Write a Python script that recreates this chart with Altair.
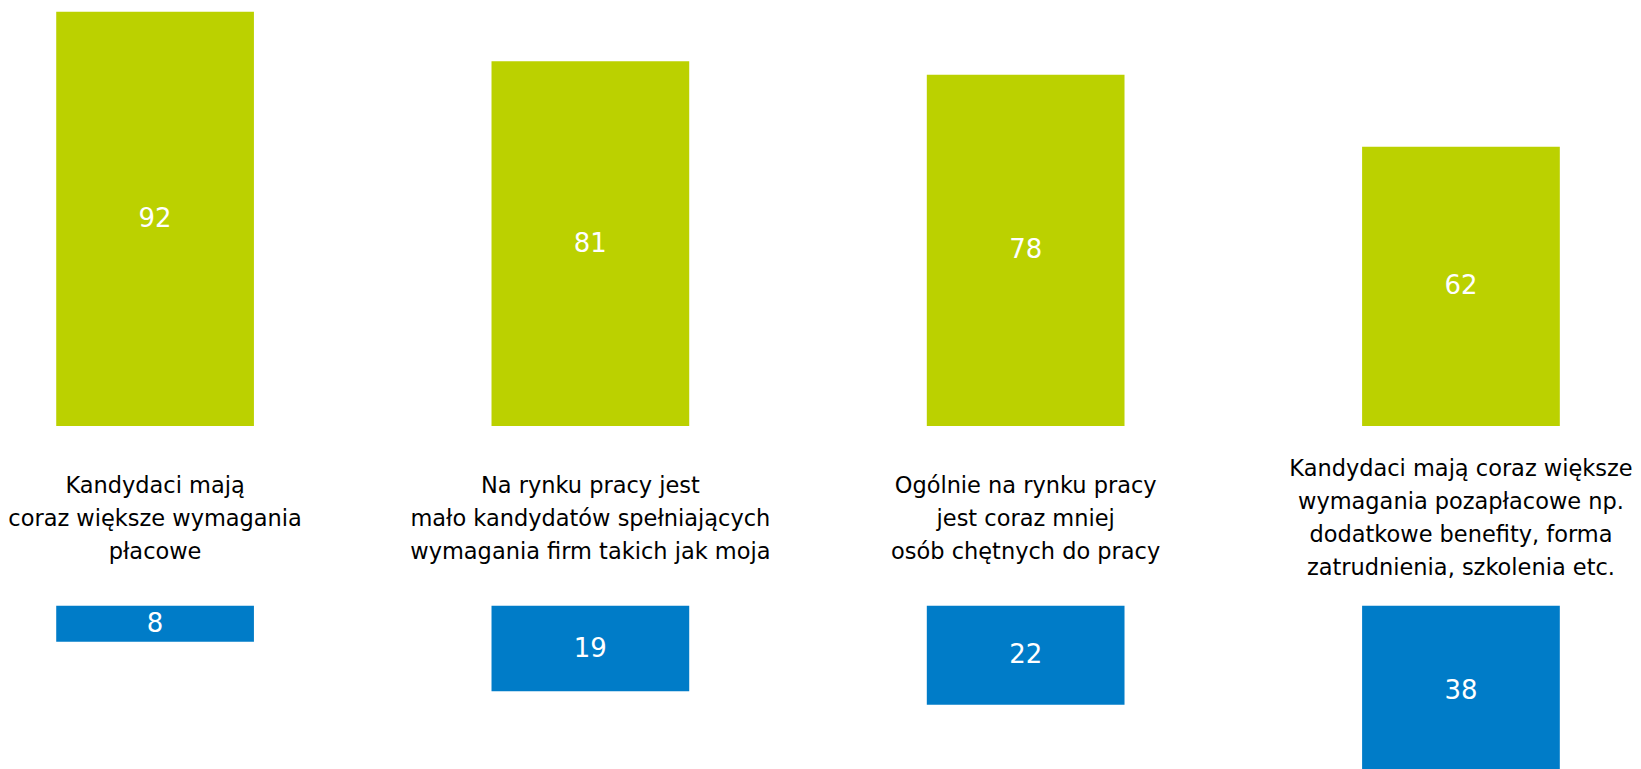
import altair as alt
import pandas as pd

categories = ["c1", "c2", "c3", "c4"]
labels = [
    "Kandydaci mają\ncoraz większe wymagania\npłacowe",
    "Na rynku pracy jest\nmało kandydatów spełniających\nwymagania firm takich jak moja",
    "Ogólnie na rynku pracy\njest coraz mniej\nosób chętnych do pracy",
    "Kandydaci mają coraz większe\nwymagania pozapłacowe np.\ndodatkowe benefity, forma\nzatrudnienia, szkolenia etc.",
]
agree = [92, 81, 78, 62]
disagree = [8, 19, 22, 38]

GREEN = "#BBD100"
BLUE = "#007CC8"
FONT = "DejaVu Sans"

df = pd.DataFrame({"cat": categories, "label": labels, "agree": agree, "disagree": disagree})

W = 1594
TOP_H = 418
MID_H = 180
BOT_H = 175
PX_PER_UNIT = TOP_H / 92.7
LINE_H = 33
MID_CENTER = 93

xenc = alt.X(
    "cat:N",
    sort=categories,
    scale=alt.Scale(type="band", paddingInner=0.5458, paddingOuter=0.1016),
    axis=None,
)

top_scale = alt.Scale(domain=[0, TOP_H / PX_PER_UNIT])
top_base = alt.Chart(df).transform_calculate(mid="datum.agree / 2")
top = alt.layer(
    top_base.mark_bar(color=GREEN).encode(
        x=xenc, y=alt.Y("agree:Q", scale=top_scale, axis=None)
    ),
    top_base.mark_text(color="white", font=FONT, fontSize=26, baseline="middle").encode(
        x=xenc, y=alt.Y("mid:Q", scale=top_scale, axis=None), text="agree:Q"
    ),
).properties(width=W, height=TOP_H)

mid = alt.Chart(df).transform_calculate(
    nlines="length(split(datum.label, '\\n'))"
).transform_calculate(
    firsty=f"{MID_CENTER} - (datum.nlines - 1) * {LINE_H} / 2"
).mark_text(
    color="black", font=FONT, fontSize=22.5, lineBreak="\n", lineHeight=LINE_H,
    baseline="middle", align="center",
).encode(
    x=xenc,
    y=alt.Y("firsty:Q", scale=alt.Scale(domain=[0, MID_H], range=[0, MID_H]), axis=None),
    text="label:N",
).properties(width=W, height=MID_H)

bot_scale = alt.Scale(domain=[0, BOT_H / PX_PER_UNIT], reverse=True)
bot_base = alt.Chart(df).transform_calculate(mid="datum.disagree / 2")
bot = alt.layer(
    bot_base.mark_bar(color=BLUE).encode(
        x=xenc, y=alt.Y("disagree:Q", scale=bot_scale, axis=None)
    ),
    bot_base.mark_text(color="white", font=FONT, fontSize=26, baseline="middle").encode(
        x=xenc, y=alt.Y("mid:Q", scale=bot_scale, axis=None), text="disagree:Q"
    ),
).properties(width=W, height=BOT_H)

chart = alt.vconcat(top, mid, bot, spacing=0).properties(
    padding={"left": 0, "top": 0, "right": 0, "bottom": 0}
).configure_view(stroke=None).configure_concat(spacing=0)

chart.save("out.html", embed_options={"renderer": "svg", "actions": False})
